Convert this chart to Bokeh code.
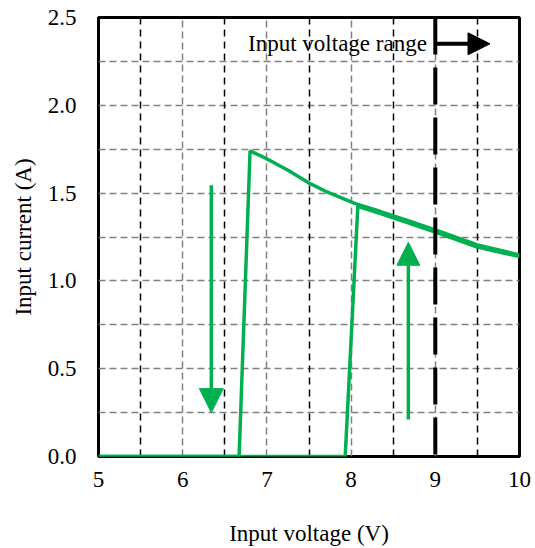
from bokeh.plotting import figure
from bokeh.models import (Range1d, FixedTicker, Grid, Span, Arrow, NormalHead, Label,
                          CustomJSTickFormatter)
from bokeh.embed import file_html
from bokeh.resources import INLINE

# ---- data ----
x_ticks = [5, 6, 7, 8, 9, 10]
y_ticks = [0.0, 0.5, 1.0, 1.5, 2.0, 2.5]
y_minor_grid = [0.25, 0.5, 0.75, 1.0, 1.25, 1.5, 1.75, 2.0, 2.25]
x_grid_whole = [6, 7, 8, 9]
x_grid_half = [5.5, 6.5, 7.5, 8.5, 9.5]

# decreasing-voltage branch (turn-off)
down_v = [5.0, 6.67, 6.80, 6.98, 7.25, 7.49, 7.72, 8.05, 8.35, 8.65, 9.0, 9.5, 10.0]
down_i = [0.0, 0.0, 1.74, 1.70, 1.63, 1.56, 1.505, 1.44, 1.395, 1.347, 1.29, 1.205, 1.148]
# increasing-voltage branch (turn-on)
up_v = [5.0, 7.93, 8.08, 8.35, 8.65, 9.0, 9.5, 10.0]
up_i = [0.0, 0.0, 1.425, 1.383, 1.335, 1.278, 1.193, 1.138]

range_limit_v = 9.0
label_text = "Input voltage range"

GREEN = "#00B050"
FONT = "Liberation Serif"
FS = "23px"

p = figure(width=535, height=548, output_backend="svg", toolbar_location=None,
           x_range=Range1d(5, 10), y_range=Range1d(0, 2.5),
           min_border_left=98, min_border_right=16, min_border_top=17, min_border_bottom=91)
p.background_fill_color = "white"
p.border_fill_color = "white"
p.outline_line_color = "black"
p.outline_line_width = 3

# axes
for ax in (p.xaxis[0], p.yaxis[0]):
    ax.axis_line_color = None
    ax.major_tick_line_color = None
    ax.minor_tick_line_color = None
    ax.major_tick_out = 0
    ax.major_tick_in = 0
    ax.major_label_text_font = FONT
    ax.major_label_text_font_size = FS
    ax.major_label_text_color = "black"
    ax.axis_label_text_font = FONT
    ax.axis_label_text_font_size = FS
    ax.axis_label_text_font_style = "normal"
    ax.axis_label_text_color = "black"

p.xaxis.ticker = FixedTicker(ticks=x_ticks)
p.yaxis.ticker = FixedTicker(ticks=y_ticks)
p.yaxis.formatter = CustomJSTickFormatter(code="return tick.toFixed(1);")
p.xaxis.axis_label = "Input voltage (V)"
p.yaxis.axis_label = "Input current (A)"
p.xaxis.major_label_standoff = 15
p.yaxis.major_label_standoff = 22
p.xaxis.axis_label_standoff = 31
p.yaxis.axis_label_standoff = 9

# grids
p.ygrid.ticker = FixedTicker(ticks=y_minor_grid)
p.ygrid.grid_line_color = "#808080"
p.ygrid.grid_line_width = 1.5
p.ygrid.grid_line_dash = "7 4"
p.xgrid.ticker = FixedTicker(ticks=x_grid_whole)
p.xgrid.grid_line_color = "#808080"
p.xgrid.grid_line_width = 1.5
p.xgrid.grid_line_dash = "7 4"
g2 = Grid(dimension=0, ticker=FixedTicker(ticks=x_grid_half),
          grid_line_color="black", grid_line_width=1.5, grid_line_dash="7 5")
p.add_layout(g2)

# input range limit
p.add_layout(Span(location=range_limit_v, dimension="height", line_color="black",
                  line_width=4, line_dash="37 13"))

# curves
p.line(down_v, down_i, line_color=GREEN, line_width=3.5)
p.line(up_v, up_i, line_color=GREEN, line_width=3.5)

# direction arrows
p.add_layout(Arrow(x_start=6.34, y_start=1.545, x_end=6.34, y_end=0.25,
                   line_color=GREEN, line_width=3.5,
                   end=NormalHead(size=24, fill_color=GREEN, line_color=GREEN, line_width=1)))
p.add_layout(Arrow(x_start=8.68, y_start=0.21, x_end=8.68, y_end=1.22,
                   line_color=GREEN, line_width=3.5,
                   end=NormalHead(size=23, fill_color=GREEN, line_color=GREEN, line_width=1)))
p.add_layout(Arrow(x_start=9.02, y_start=2.35, x_end=9.65, y_end=2.35,
                   line_color="black", line_width=4,
                   end=NormalHead(size=22, fill_color="black", line_color="black", line_width=1)))

p.add_layout(Label(x=8.9, y=2.35, text=label_text, text_align="right",
                   text_baseline="middle", text_font=FONT, text_font_size=FS,
                   text_color="black"))

open("out.html", "w").write(file_html(p, INLINE))
